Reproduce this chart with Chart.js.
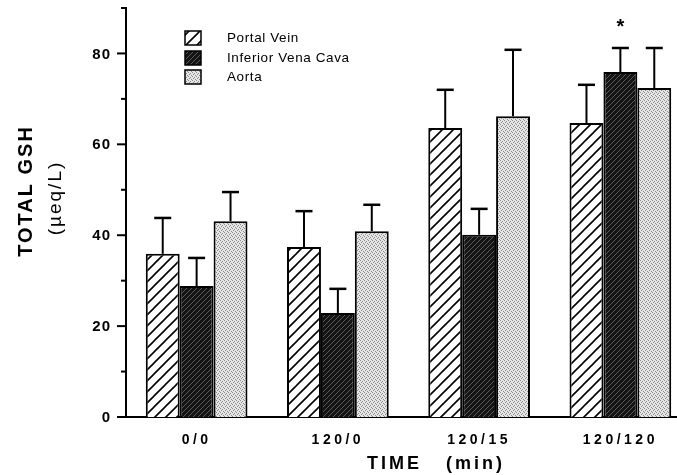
<!DOCTYPE html>
<html>
<head>
<meta charset="utf-8">
<script src="https://cdn.jsdelivr.net/npm/chart.js@4.4.1/dist/chart.umd.min.js"></script>
<style>
  html, body { margin: 0; padding: 0; background: #fff; overflow: hidden; }
  #chartWrap { width: 700px; height: 475px; }
</style>
</head>
<body>
<div id="chartWrap"><canvas id="gshChart" width="700" height="475"></canvas></div>
<script>
// data (means and upper SD)
const timeLabels = ["0/0", "120/0", "120/15", "120/120"];
const seriesNames = ["Portal Vein", "Inferior Vena Cava", "Aorta"];
const portalVein = [35.9, 37.4, 63.6, 64.7];
const portalVeinSD = [7.9, 7.9, 8.4, 8.4];
const venaCava = [28.8, 22.9, 40.1, 75.9];
const venaCavaSD = [6.2, 5.3, 5.7, 5.3];
const aorta = [43.1, 40.9, 66.2, 72.4];
const aortaSD = [6.4, 5.8, 14.6, 8.8];
const venaCavaMarks = ["", "", "", "*"];
const yLabelTicks = [0, 20, 40, 60, 80];

const FONT = '"Liberation Sans", Arial, Helvetica, sans-serif';

const canvas = document.getElementById("gshChart");
const ctx = canvas.getContext("2d");

// small tiles used as fills
function tilePattern(size, paint) {
  const c = document.createElement("canvas");
  c.width = size;
  c.height = size;
  paint(c.getContext("2d"), size);
  return ctx.createPattern(c, "repeat");
}

function hatch(g, s, color, width) {
  g.strokeStyle = color;
  g.lineWidth = width;
  g.beginPath();
  g.moveTo(0, s); g.lineTo(s, 0);
  g.moveTo(-s / 2, s / 2); g.lineTo(s / 2, -s / 2);
  g.moveTo(s / 2, s * 1.5); g.lineTo(s * 1.5, s / 2);
  g.stroke();
}

const portalFill = tilePattern(11, (g, s) => {
  g.fillStyle = "#fff";
  g.fillRect(0, 0, s, s);
  hatch(g, s, "#000", 1.6);
});

const cavaFill = tilePattern(5, (g, s) => {
  g.fillStyle = "#141414";
  g.fillRect(0, 0, s, s);
  hatch(g, s, "#8a8a8a", 0.6);
});

const aortaFill = tilePattern(4, (g, s) => {
  g.fillStyle = "#e6e6e6";
  g.fillRect(0, 0, s, s);
  g.fillStyle = "#8c8c8c";
  [[0, 0], [2, 1], [1, 2], [3, 3]].forEach(([px, py]) => g.fillRect(px, py, 1, 1));
});

// error bars + significance mark
const errorBars = {
  id: "errorBars",
  afterDatasetsDraw(chart) {
    const { ctx: c, scales: { y } } = chart;
    c.save();
    c.strokeStyle = "#000";
    c.fillStyle = "#000";
    chart.data.datasets.forEach((ds, i) => {
      chart.getDatasetMeta(i).data.forEach((bar, j) => {
        const top = y.getPixelForValue(ds.data[j] + ds.sd[j]);
        c.lineWidth = 2;
        c.beginPath();
        c.moveTo(bar.x, bar.y);
        c.lineTo(bar.x, top);
        c.stroke();
        c.lineWidth = 2.5;
        c.beginPath();
        c.moveTo(bar.x - 8.5, top);
        c.lineTo(bar.x + 8.5, top);
        c.stroke();
        if (ds.marks && ds.marks[j]) {
          c.letterSpacing = "0px";
          c.font = "bold 20px " + FONT;
          c.textAlign = "center";
          c.textBaseline = "middle";
          c.fillText(ds.marks[j], bar.x, top - 21);
        }
      });
    });
    c.restore();
  }
};

// tick marks, tick labels on y, axis titles and legend
const decorations = {
  id: "decorations",
  beforeDraw(chart) {
    // the scanned figure uses widely spaced category labels
    chart.ctx.letterSpacing = "3.5px";
  },
  afterDraw(chart) {
    const { ctx: c, chartArea, scales: { y } } = chart;
    c.save();
    c.letterSpacing = "0px";
    c.strokeStyle = "#000";
    c.fillStyle = "#000";
    c.lineWidth = 2;
    for (let v = 0; v <= 90; v += 10) {
      const py = y.getPixelForValue(v);
      const len = v % 20 === 0 ? 9 : 5;
      c.beginPath();
      c.moveTo(chartArea.left - len, py);
      c.lineTo(chartArea.left, py);
      c.stroke();
    }

    c.font = "bold 15px " + FONT;
    c.letterSpacing = "1px";
    c.textAlign = "right";
    c.textBaseline = "middle";
    yLabelTicks.forEach((v) => {
      c.fillText(String(v), 111, y.getPixelForValue(v) + 1);
    });

    // y title
    c.save();
    c.translate(32, 191);
    c.rotate(-Math.PI / 2);
    c.textAlign = "center";
    c.textBaseline = "alphabetic";
    c.letterSpacing = "2px";
    c.font = "bold 20px " + FONT;
    c.fillText("TOTAL GSH", 0, 0);
    c.restore();

    c.save();
    c.translate(61, 198);
    c.rotate(-Math.PI / 2);
    c.textAlign = "center";
    c.textBaseline = "alphabetic";
    c.letterSpacing = "2px";
    c.font = "19px " + FONT;
    c.fillText("(\u00b5eq/L)", 0, 0);
    c.restore();

    // x title
    c.letterSpacing = "3px";
    c.font = "bold 18px " + FONT;
    c.textAlign = "center";
    c.textBaseline = "alphabetic";
    c.fillText("TIME   (min)", 436, 469);

    // legend
    c.letterSpacing = "0.6px";
    c.font = "13.5px " + FONT;
    c.textAlign = "left";
    c.textBaseline = "middle";
    const rows = [38, 58, 77];
    chart.data.datasets.forEach((ds, i) => {
      c.fillStyle = ds.backgroundColor;
      c.fillRect(185, rows[i] - 7, 16, 14);
      c.lineWidth = 1.5;
      c.strokeRect(185, rows[i] - 7, 16, 14);
      c.fillStyle = "#000";
      c.fillText(ds.label, 227, rows[i]);
    });
    c.restore();
  }
};

const barStyle = { borderColor: "#000", borderWidth: 2, borderSkipped: "bottom" };

new Chart(ctx, {
  type: "bar",
  data: {
    labels: timeLabels,
    datasets: [
      { label: seriesNames[0], data: portalVein, sd: portalVeinSD, backgroundColor: portalFill, ...barStyle },
      { label: seriesNames[1], data: venaCava, sd: venaCavaSD, marks: venaCavaMarks, backgroundColor: cavaFill, ...barStyle },
      { label: seriesNames[2], data: aorta, sd: aortaSD, backgroundColor: aortaFill, ...barStyle }
    ]
  },
  options: {
    responsive: false,
    animation: false,
    events: [],
    devicePixelRatio: 1,
    layout: { padding: { top: 8, right: 9, left: 0, bottom: 0 } },
    datasets: { bar: { categoryPercentage: 0.72, barPercentage: 1 } },
    plugins: { legend: { display: false }, tooltip: { enabled: false } },
    scales: {
      x: {
        grid: { display: false, drawTicks: false },
        border: { display: true, color: "#000", width: 2 },
        ticks: { color: "#000", padding: 15, maxRotation: 0, font: { family: FONT, size: 14, weight: "bold" } },
        afterFit: (scale) => { scale.height = 58; }
      },
      y: {
        min: 0,
        max: 90,
        grid: { display: false, drawTicks: false },
        border: { display: true, color: "#000", width: 2 },
        ticks: { display: false },
        afterFit: (scale) => { scale.width = 126; }
      }
    }
  },
  plugins: [errorBars, decorations]
});
</script>
</body>
</html>
